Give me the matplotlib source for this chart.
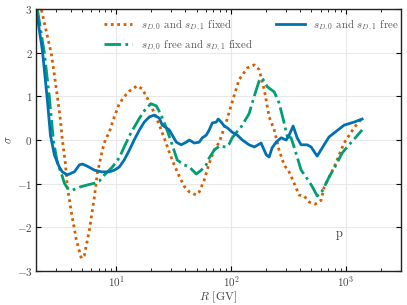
import matplotlib
matplotlib.use("Agg")
from matplotlib import pyplot as plt

plt.rcParams['font.family'] = ['cmr10', 'DejaVu Serif']
plt.rcParams['mathtext.fontset'] = 'cm'
plt.rcParams['axes.formatter.use_mathtext'] = True

# blue: s_D0 and s_D1 free
r_free = [2.01, 2.27, 2.51, 2.67, 2.89, 3.19, 3.39, 3.75, 4.31, 4.77, 5.06, 5.59, 6.44, 7.41,
          8.69, 9.61, 10.6, 11.7, 13.0, 14.3, 15.9, 17.5, 19.4, 21.4, 23.7, 25.1, 27.2, 28.9,
          30.7, 33.3, 36.7, 40.6, 43.2, 47.7, 52.7, 56.0, 60.6, 64.4, 68.4, 74.1, 77.1, 81.9,
          86.9, 92.3, 102, 113, 125, 143, 159, 182, 202, 214, 227, 246, 272, 301, 319, 346,
          375, 406, 458, 496, 560, 644, 711, 961, 1174, 1378]
s_free = [2.98, 2.06, 0.92, 0.11, -0.34, -0.62, -0.73, -0.80, -0.73, -0.57, -0.55, -0.60,
          -0.69, -0.73, -0.73, -0.69, -0.62, -0.46, -0.23, 0.0, 0.23, 0.41, 0.53, 0.57, 0.50,
          0.34, 0.28, 0.23, 0.11, -0.05, -0.11, -0.05, 0.0, -0.07, -0.05, 0.05, 0.11, 0.23,
          0.39, 0.41, 0.48, 0.41, 0.32, 0.28, 0.18, 0.11, 0.0, -0.11, -0.16, -0.07, -0.34,
          -0.39, -0.18, -0.05, 0.05, 0.0, 0.11, 0.32, 0.05, -0.11, -0.11, -0.16, -0.37, -0.11,
          0.07, 0.34, 0.41, 0.48]

# orange: s_D0 and s_D1 fixed
r_fixed = [2.23, 2.46, 2.72, 2.89, 3.07, 3.26, 3.39, 3.60, 3.75, 4.06, 4.49, 4.96, 5.27, 5.83,
           6.44, 6.84, 7.56, 8.02, 8.69, 9.61, 10.6, 11.7, 13.0, 15.2, 16.8, 18.6, 20.5, 23.7,
           26.1, 28.9, 31.9, 35.3, 39.0, 43.2, 49.6, 52.7, 58.2, 64.4, 71.2, 78.7, 90.5, 102,
           117, 138, 159, 175, 194, 214, 237, 261, 289, 319, 353, 390, 431, 477, 537, 606, 644,
           787, 961, 1174, 1378]
s_fixed = [2.98, 2.48, 1.97, 1.49, 0.99, 0.46, 0.0, -0.53, -1.08, -1.65, -2.29, -2.71, -2.64,
           -2.06, -1.31, -0.76, -0.23, 0.0, 0.18, 0.53, 0.83, 0.99, 1.12, 1.24, 1.17, 0.96,
           0.73, 0.34, 0.05, -0.28, -0.57, -0.83, -1.06, -1.19, -1.26, -1.19, -0.92, -0.53,
           -0.23, -0.05, 0.41, 0.87, 1.38, 1.65, 1.72, 1.61, 1.15, 0.53, 0.23, -0.23, -0.57,
           -0.73, -0.99, -1.26, -1.28, -1.42, -1.47, -1.38, -1.08, -0.62, -0.07, 0.28, 0.50]

# green: s_D0 free and s_D1 fixed
r_mixed = [2.06, 2.23, 2.37, 2.61, 2.83, 3.07, 3.32, 3.53, 3.75, 4.14, 4.77, 5.59, 6.44, 7.11,
           7.87, 9.23, 10.6, 11.7, 13.5, 15.9, 18.2, 20.1, 22.3, 24.6, 27.2, 30.1, 33.9, 39.0,
           43.2, 47.7, 49.6, 54.9, 60.6, 64.4, 71.2, 78.7, 90.5, 96.1, 102, 110, 122, 143, 159,
           175, 186, 206, 237, 261, 289, 307, 332, 353, 375, 406, 449, 506, 560, 606, 644, 711,
           819, 923, 1062, 1222, 1378]
s_mixed = [2.98, 2.41, 1.97, 0.99, 0.0, -0.53, -0.76, -0.99, -1.10, -1.15, -1.08, -1.03, -0.99,
           -0.94, -0.80, -0.62, -0.41, -0.16, 0.18, 0.50, 0.73, 0.83, 0.78, 0.57, 0.28, -0.05,
           -0.46, -0.57, -0.62, -0.73, -0.78, -0.69, -0.57, -0.41, -0.23, -0.14, -0.16, -0.09,
           0.05, 0.16, 0.30, 0.60, 1.01, 1.35, 1.42, 1.22, 1.10, 0.85, 0.39, 0.09, 0.05, -0.16,
           -0.39, -0.69, -0.85, -1.06, -1.28, -1.22, -1.08, -0.85, -0.57, -0.30, -0.11, 0.07,
           0.23]

fig = plt.figure(figsize=(4.07, 3.05), dpi=100)
ax = fig.add_axes([0.0885, 0.1115, 0.8965, 0.859])

ax.plot(r_fixed, s_fixed, color="#D55E00", ls=(0, (1, 1.3)), lw=2.0,
        label=r"$s_{D,0}$ and $s_{D,1}$ fixed")
ax.plot(r_mixed, s_mixed, color="#009E73", ls=(0, (6, 1.5, 1, 1.5)), lw=2.0,
        label=r"$s_{D,0}$ free and $s_{D,1}$ fixed")
ax.plot(r_free, s_free, color="#0072B2", ls="-", lw=2.0,
        label=r"$s_{D,0}$ and $s_{D,1}$ free")

ax.set_xscale("log")
ax.set_xlim(2, 3000)
ax.set_ylim(-3, 3)
ax.set_yticks([-3, -2, -1, 0, 1, 2, 3])
ax.grid(True, which="major", color="#e8e8e8", lw=0.8)
ax.set_axisbelow(True)

ax.tick_params(which="both", direction="in", top=True, right=True, labelsize=8,
               labelcolor="#444444", pad=2.5)
ax.tick_params(which="major", length=3.5, width=0.8)
ax.tick_params(which="minor", length=2, width=0.6)
for s in ax.spines.values():
    s.set_linewidth(1.0)
    s.set_color("#222222")

ax.set_xlabel(r"$R$ [GV]", fontsize=8.5, color="#444444", labelpad=0)
ax.set_ylabel(r"$\sigma$", fontsize=8.5, color="#444444", labelpad=2)

ax.text(870, -2.15, "p", fontsize=9, color="#444444", ha="center", va="center")

ax.legend(loc="upper center", ncol=2, frameon=False, fontsize=7.8, labelcolor="#555555",
          handlelength=2.6, columnspacing=2.2, borderaxespad=0.4, labelspacing=0.45,
          bbox_to_anchor=(0.59, 1.0))

fig.savefig("out.png", dpi=100)
